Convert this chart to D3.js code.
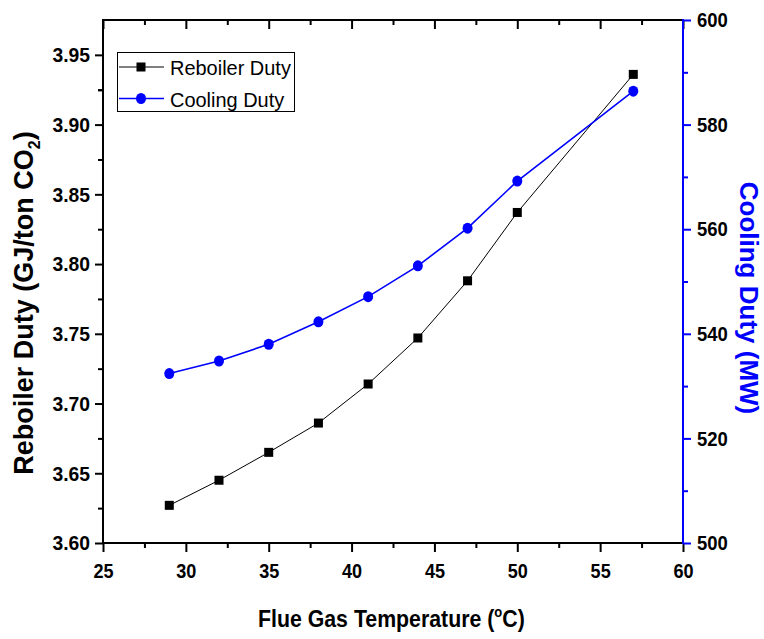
<!DOCTYPE html>
<html>
<head>
<meta charset="utf-8">
<script src="https://cdn.jsdelivr.net/npm/d3@7"></script>
<style>
  html, body { margin: 0; padding: 0; background: #fff; }
  svg { display: block; }
  .tick-label { font-family: "Liberation Sans", Arial, sans-serif; font-weight: bold; font-size: 21px; }
  .title { font-family: "Liberation Sans", Arial, sans-serif; font-weight: bold; font-size: 27px; }
  .title-r { font-family: "Liberation Sans", Arial, sans-serif; font-weight: bold; font-size: 26px; }
  .title-x { font-family: "Liberation Sans", Arial, sans-serif; font-weight: bold; font-size: 23px; }
  .legend-text { font-family: "Liberation Sans", Arial, sans-serif; font-size: 21px; }
</style>
</head>
<body>
<svg id="chart" width="764" height="639"></svg>
<script>
// Flue gas temperature (°C)
const temperature = [29, 32, 35, 38, 41, 44, 47, 50, 57];
// Reboiler duty (GJ/ton CO2)
const reboilerDuty = [3.627, 3.645, 3.665, 3.686, 3.714, 3.747, 3.788, 3.837, 3.936];
// Cooling duty (MW)
const coolingDuty = [532.4, 534.8, 538.0, 542.3, 547.1, 553.0, 560.2, 569.2, 586.4];

const xTicks = [25, 30, 35, 40, 45, 50, 55, 60];
const yLeftTicks = [3.60, 3.65, 3.70, 3.75, 3.80, 3.85, 3.90, 3.95];
const yRightTicks = [500, 520, 540, 560, 580, 600];

const seriesNames = ["Reboiler Duty", "Cooling Duty"];

const svg = d3.select("#chart");
const m = { left: 103, right: 683, top: 20, bottom: 543 };

const x = d3.scaleLinear().domain([25, 60]).range([m.left, m.right]);
const yL = d3.scaleLinear().domain([3.6, 3.975]).range([m.bottom, m.top]);
const yR = d3.scaleLinear().domain([500, 600]).range([m.bottom, m.top]);

const blue = "#0000ff";

// squeeze a text element horizontally (condensed face look)
function condense(sel, factor) {
  sel.each(function () {
    const w = this.getComputedTextLength();
    d3.select(this).attr("textLength", w * factor).attr("lengthAdjust", "spacingAndGlyphs");
  });
}

// minor tick positions halfway between the majors
function minors(majors) {
  const out = [];
  for (let i = 0; i < majors.length - 1; i++) out.push((majors[i] + majors[i + 1]) / 2);
  return out;
}

const g = svg.append("g");

// Bottom axis (ticks outward)
const axBottom = g.append("g").attr("transform", `translate(0,${m.bottom})`)
  .call(d3.axisBottom(x).tickValues(xTicks).tickSize(9).tickPadding(11).tickFormat(d3.format("d")));
axBottom.append("g").call(d3.axisBottom(x).tickValues(minors(xTicks)).tickSize(5).tickFormat(""));

// Top axis (ticks inward)
const axTop = g.append("g").attr("transform", `translate(0,${m.top})`)
  .call(d3.axisTop(x).tickValues(xTicks).tickSize(-9).tickFormat(""));
axTop.append("g").call(d3.axisTop(x).tickValues(minors(xTicks)).tickSize(-5).tickFormat(""));

// Left axis (ticks outward)
const axLeft = g.append("g").attr("transform", `translate(${m.left},0)`)
  .call(d3.axisLeft(yL).tickValues(yLeftTicks).tickSize(8).tickPadding(5).tickFormat(d3.format(".2f")));
axLeft.append("g").call(d3.axisLeft(yL).tickValues(minors(yLeftTicks).concat([3.925])).tickSize(5).tickFormat(""));

// Right axis (ticks outward, blue)
const axRight = g.append("g").attr("transform", `translate(${m.right},0)`)
  .call(d3.axisRight(yR).tickValues(yRightTicks).tickSize(8).tickPadding(6).tickFormat(d3.format("d")));
axRight.append("g").call(d3.axisRight(yR).tickValues(minors(yRightTicks)).tickSize(5).tickFormat(""));

[axBottom, axTop, axLeft].forEach(a => a.selectAll("line").attr("stroke", "#000").attr("stroke-width", 2));
axRight.selectAll("line").attr("stroke", blue).attr("stroke-width", 2);

// plain frame lines instead of the axis domain paths
svg.selectAll("path.domain").remove();
g.append("line").attr("x1", m.left).attr("x2", m.right).attr("y1", m.bottom).attr("y2", m.bottom).attr("stroke", "#000").attr("stroke-width", 2);
g.append("line").attr("x1", m.left).attr("x2", m.right).attr("y1", m.top).attr("y2", m.top).attr("stroke", "#000").attr("stroke-width", 2);
g.append("line").attr("x1", m.left).attr("x2", m.left).attr("y1", m.top - 1).attr("y2", m.bottom + 1).attr("stroke", "#000").attr("stroke-width", 2);
g.append("line").attr("x1", m.right).attr("x2", m.right).attr("y1", m.top - 1).attr("y2", m.bottom + 1).attr("stroke", blue).attr("stroke-width", 2);

svg.selectAll(".tick text").attr("class", "tick-label").attr("fill", "#000");
condense(axBottom.selectAll(".tick text"), 0.86);
condense(axLeft.selectAll(".tick text"), 0.92);
condense(axRight.selectAll(".tick text"), 0.88);

// Series lines
const reboilerPts = temperature.map((t, i) => [x(t), yL(reboilerDuty[i])]);
const coolingPts = temperature.map((t, i) => [x(t), yR(coolingDuty[i])]);
const line = d3.line();

g.append("path").attr("d", line(reboilerPts)).attr("fill", "none").attr("stroke", "#000").attr("stroke-width", 1);
g.append("path").attr("d", line(coolingPts)).attr("fill", "none").attr("stroke", blue).attr("stroke-width", 1.6);

g.selectAll("rect.reb").data(reboilerPts).join("rect").attr("class", "reb")
  .attr("x", d => d[0] - 4.5).attr("y", d => d[1] - 4.5).attr("width", 9).attr("height", 9).attr("fill", "#000");
g.selectAll("ellipse.cool").data(coolingPts).join("ellipse").attr("class", "cool")
  .attr("cx", d => d[0]).attr("cy", d => d[1]).attr("rx", 5).attr("ry", 5.5).attr("fill", blue);

// Legend
const lg = g.append("g");
lg.append("rect").attr("x", 117.5).attr("y", 52.5).attr("width", 177).attr("height", 59)
  .attr("fill", "#fff").attr("stroke", "#000").attr("stroke-width", 1);
const legendRows = [
  { name: seriesNames[0], y: 67, color: "#000", shape: "rect" },
  { name: seriesNames[1], y: 98.5, color: blue, shape: "circle" }
];
legendRows.forEach(r => {
  lg.append("line").attr("x1", 119).attr("x2", 164).attr("y1", r.y).attr("y2", r.y)
    .attr("stroke", r.color).attr("stroke-width", r.shape === "rect" ? 1 : 1.6);
  if (r.shape === "rect") {
    lg.append("rect").attr("x", 136.5).attr("y", r.y - 4.5).attr("width", 9).attr("height", 9).attr("fill", "#000");
  } else {
    lg.append("ellipse").attr("cx", 141).attr("cy", r.y).attr("rx", 5).attr("ry", 5.5).attr("fill", blue);
  }
  const t = lg.append("text").attr("class", "legend-text").attr("x", 170).attr("y", r.y + 8).text(r.name);
  condense(t, 0.95);
});

// X axis title, squeezed horizontally as a group
const xtG = svg.append("g");
const xt = xtG.append("text").attr("class", "title-x").attr("x", 0).attr("y", 0);
xt.append("tspan").text("Flue Gas Temperature (");
xt.append("tspan").attr("font-size", "14px").attr("dy", -10).text("o");
xt.append("tspan").attr("dy", 10).text("C)");
const xtW = xt.node().getBBox().width;
xtG.attr("transform", `translate(258,627) scale(${267 / xtW},1)`);

const ylt = svg.append("text").attr("class", "title").attr("text-anchor", "middle")
  .attr("transform", "translate(33,303) rotate(-90)");
ylt.append("tspan").text("Reboiler Duty (GJ/ton CO");
ylt.append("tspan").attr("font-size", "16px").attr("dy", 7).text("2");
ylt.append("tspan").attr("dy", -7).text(")");

svg.append("text").attr("class", "title-r").attr("text-anchor", "middle").attr("fill", blue)
  .attr("transform", "translate(740,298) rotate(90)").text("Cooling Duty (MW)");
</script>
</body>
</html>
